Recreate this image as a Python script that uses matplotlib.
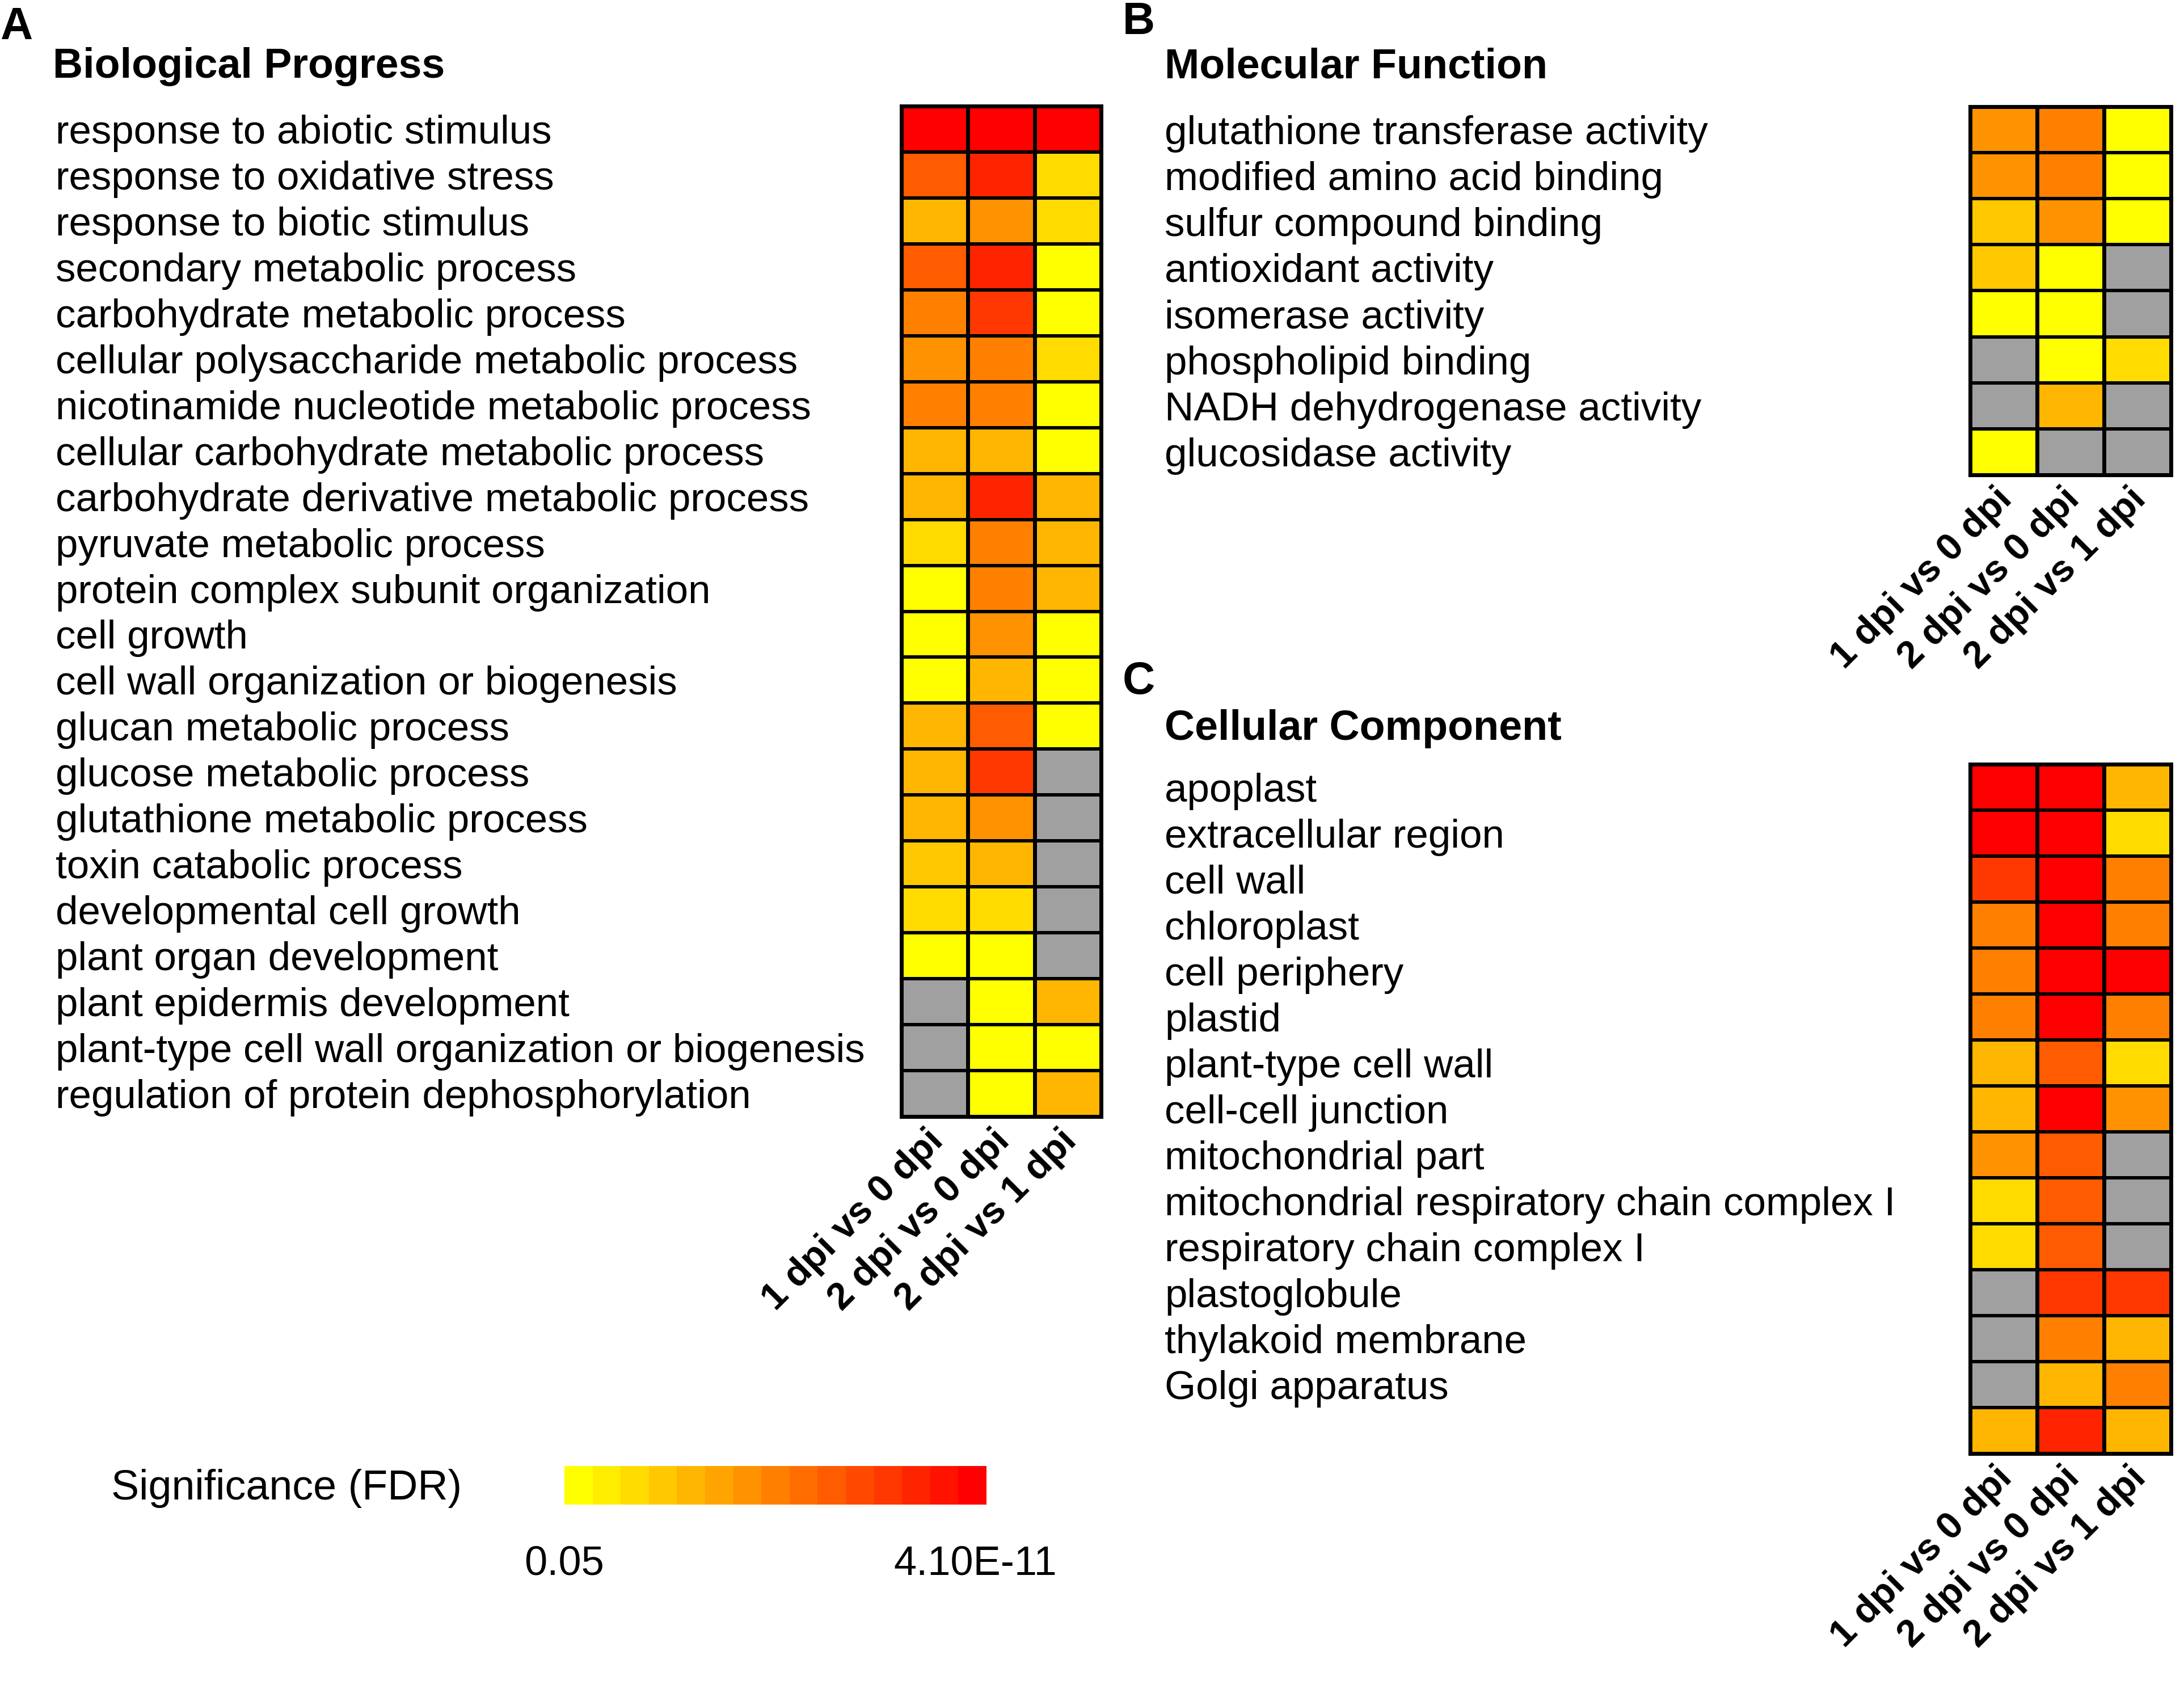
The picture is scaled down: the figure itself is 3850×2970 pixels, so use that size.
import numpy as np
import matplotlib
matplotlib.use("Agg")
import matplotlib.pyplot as plt
from matplotlib.colors import ListedColormap, BoundaryNorm

plt.rcParams['font.family'] = ['Liberation Sans', 'DejaVu Sans']

nan = np.nan
comparisons = ['1 dpi vs 0 dpi', '2 dpi vs 0 dpi', '2 dpi vs 1 dpi']

# Significance level index: 0 = 0.05 (yellow) ... 14 = 4.10E-11 (red); nan = not significant (grey)
bp_terms = ['response to abiotic stimulus', 'response to oxidative stress', 'response to biotic stimulus',
            'secondary metabolic process', 'carbohydrate metabolic process',
            'cellular polysaccharide metabolic process', 'nicotinamide nucleotide metabolic process',
            'cellular carbohydrate metabolic process', 'carbohydrate derivative metabolic process',
            'pyruvate metabolic process', 'protein complex subunit organization', 'cell growth',
            'cell wall organization or biogenesis', 'glucan metabolic process', 'glucose metabolic process',
            'glutathione metabolic process', 'toxin catabolic process', 'developmental cell growth',
            'plant organ development', 'plant epidermis development',
            'plant-type cell wall organization or biogenesis', 'regulation of protein dephosphorylation']
bp_1v0 = [14, 9, 4, 9, 7, 6, 7, 4, 4, 2, 0, 0, 0, 4, 4, 4, 3, 2, 0, nan, nan, nan]
bp_2v0 = [14, 12, 6, 12, 11, 7, 7, 4, 12, 7, 7, 6, 4, 9, 11, 6, 4, 2, 0, 0, 0, 0]
bp_2v1 = [14, 2, 2, 0, 0, 2, 0, 0, 4, 4, 4, 0, 0, 0, nan, nan, nan, nan, nan, 4, 0, 4]

mf_terms = ['glutathione transferase activity', 'modified amino acid binding', 'sulfur compound binding',
            'antioxidant activity', 'isomerase activity', 'phospholipid binding',
            'NADH dehydrogenase activity', 'glucosidase activity']
mf_1v0 = [6, 6, 3, 3, 0, nan, nan, 0]
mf_2v0 = [7, 7, 6, 0, 0, 0, 4, nan]
mf_2v1 = [0, 0, 0, nan, nan, 2, nan, nan]

cc_terms = ['apoplast', 'extracellular region', 'cell wall', 'chloroplast', 'cell periphery', 'plastid',
            'plant-type cell wall', 'cell-cell junction', 'mitochondrial part',
            'mitochondrial respiratory chain complex I', 'respiratory chain complex I', 'plastoglobule',
            'thylakoid membrane', 'Golgi apparatus', '']
cc_1v0 = [14, 14, 11, 7, 7, 7, 4, 4, 6, 2, 2, nan, nan, nan, 4]
cc_2v0 = [14, 14, 14, 14, 14, 14, 9, 14, 9, 9, 9, 11, 7, 4, 12]
cc_2v1 = [4, 2, 7, 7, 14, 7, 2, 6, nan, nan, nan, 11, 4, 7, 4]

n_levels = 15
cbar_title = 'Significance (FDR)'
cbar_ticklabels = ['0.05', '4.10E-11']

colors = [(1.0, (n_levels - 1 - k) / (n_levels - 1), 0.0) for k in range(n_levels)]
cmap = ListedColormap(colors)
cmap.set_bad('#A0A0A0')
norm = BoundaryNorm(np.arange(-0.5, n_levels + 0.5, 1), cmap.N)

W, H = 3850, 2970
fig = plt.figure(figsize=(W / 100, H / 100), dpi=100)


def rect(x0, y0, x1, y1):
    return [x0 / W, 1 - y1 / H, (x1 - x0) / W, (y1 - y0) / H]


def heatmap(r, terms, cols, label_x):
    ax = fig.add_axes(rect(*r))
    Z = np.ma.masked_invalid(np.array(cols, dtype=float).T)
    ax.pcolormesh(Z, cmap=cmap, norm=norm, edgecolors='black', linewidth=3)
    n = len(terms)
    ax.set_xlim(0, 3)
    ax.set_ylim(n, 0)
    ax.set_xticks([])
    pad_pt = (r[0] - label_x) * 0.72
    ax.set_yticks(np.arange(n) + 0.5, terms)
    ax.tick_params(axis='y', length=0, pad=pad_pt, labelsize=51)
    for t in ax.get_yticklabels():
        t.set_ha('left')
    for x in [1, 2]:
        ax.axvline(x, color='black', lw=5)
    for s in ax.spines.values():
        s.set_linewidth(5)
    for j, lab in enumerate(comparisons):
        ax.text(j + 0.55, n + 0.42, lab, rotation=45, ha='right', va='center',
                rotation_mode='anchor', fontweight='bold', fontsize=48)
    return ax


heatmap((1589, 187, 1941, 1968), bp_terms, [bp_1v0, bp_2v0, bp_2v1], 98)
heatmap((3473, 188, 3827, 837), mf_terms, [mf_1v0, mf_2v0, mf_2v1], 2053)
heatmap((3473, 1347, 3827, 2562), cc_terms, [cc_1v0, cc_2v0, cc_2v1], 2053)

# panel letters and titles
for lab, x, y in [('A', 0, 69), ('B', 1979, 60), ('C', 1979, 1223)]:
    fig.text(x / W, 1 - y / H, lab, fontsize=57, fontweight='bold', va='baseline', ha='left')
for lab, x, y in [('Biological Progress', 93, 137), ('Molecular Function', 2053, 137),
                  ('Cellular Component', 2053, 1304)]:
    fig.text(x / W, 1 - y / H, lab, fontsize=53, fontweight='bold', va='baseline', ha='left')

# colour scale
cax = fig.add_axes(rect(995, 2584, 1739, 2652))
cax.pcolormesh(np.arange(n_levels)[None, :], cmap=cmap, norm=norm)
cax.set_xlim(0, n_levels)
cax.set_ylim(0, 1)
cax.axis('off')
cax.text(0.0, -1.55, cbar_ticklabels[0], ha='center', va='center', fontsize=52)
cax.text(n_levels - 0.4, -1.55, cbar_ticklabels[1], ha='center', va='center', fontsize=52)
fig.text(196 / W, 1 - 2623 / H, cbar_title, fontsize=53, ha='left', va='center')

fig.savefig('out.png', dpi=100)
